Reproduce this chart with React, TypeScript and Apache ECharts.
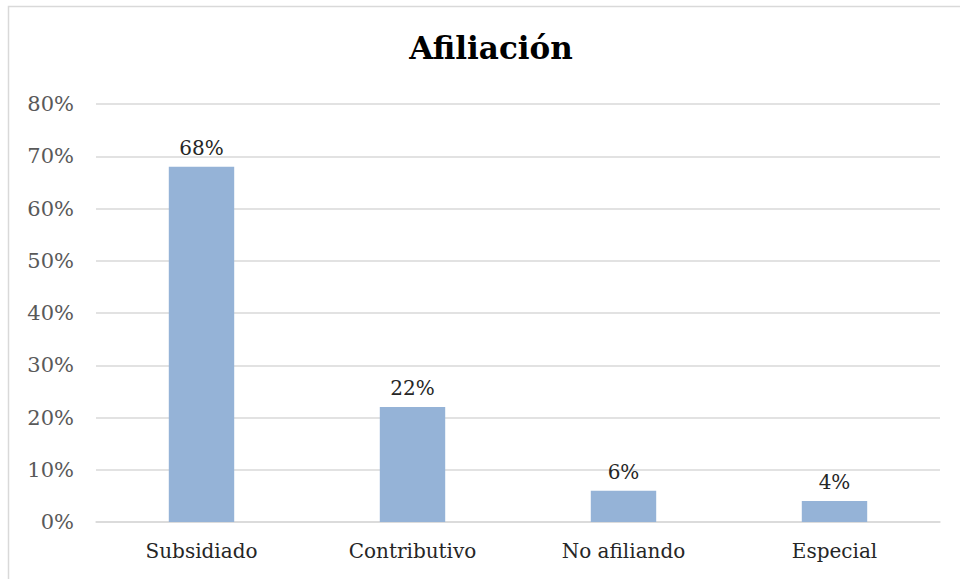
import React, { useEffect, useRef } from "react";
import * as echarts from "echarts";

const title = "Afiliación";
const categories = ["Subsidiado", "Contributivo", "No afiliando", "Especial"];
const values = [68, 22, 6, 4];
const yMin = 0;
const yMax = 80;
const yStep = 10;

const FONT = "DejaVu Serif";

export default function App() {
  const ref = useRef<HTMLDivElement>(null);
  useEffect(() => {
    if (!ref.current) return;
    const chart = echarts.init(ref.current, null, { renderer: "svg" });
    chart.setOption({
      animation: false,
      backgroundColor: "#ffffff",
      textStyle: { fontFamily: FONT },
      graphic: [
        {
          type: "rect",
          shape: { x: 8.5, y: 6.5, width: 962, height: 600 },
          style: { fill: "none", stroke: "#d9d9d9", lineWidth: 1.5 },
          silent: true,
        },
      ],
      title: {
        text: title,
        left: 486,
        textAlign: "center",
        top: 27,
        textStyle: {
          fontFamily: FONT,
          fontSize: 31,
          fontWeight: "bold",
          color: "#000000",
        },
      },
      grid: { left: 96, right: 20, top: 104, bottom: 57, containLabel: false },
      xAxis: {
        type: "category",
        data: categories,
        axisLine: { show: true, lineStyle: { color: "#d9d9d9", width: 1.5 } },
        axisTick: { show: false },
        axisLabel: {
          fontFamily: FONT,
          fontSize: 20,
          color: "#262626",
          margin: 19,
        },
      },
      yAxis: {
        type: "value",
        min: yMin,
        max: yMax,
        interval: yStep,
        axisLine: { show: false },
        axisTick: { show: false },
        splitLine: { lineStyle: { color: "#d9d9d9", width: 1.5 } },
        axisLabel: {
          formatter: "{value}%",
          fontFamily: FONT,
          fontSize: 21,
          color: "#595959",
          margin: 22,
        },
      },
      series: [
        {
          type: "bar",
          data: values,
          barWidth: "31%",
          itemStyle: { color: "#95b3d7" },
          label: {
            show: true,
            position: "top",
            distance: 9,
            formatter: "{c}%",
            fontFamily: FONT,
            fontSize: 20,
            color: "#262626",
          },
        },
      ],
    });
    return () => chart.dispose();
  }, []);
  return (
    <div
      ref={ref}
      style={{ position: "absolute", left: 0, top: 0, width: 960, height: 579 }}
    />
  );
}
